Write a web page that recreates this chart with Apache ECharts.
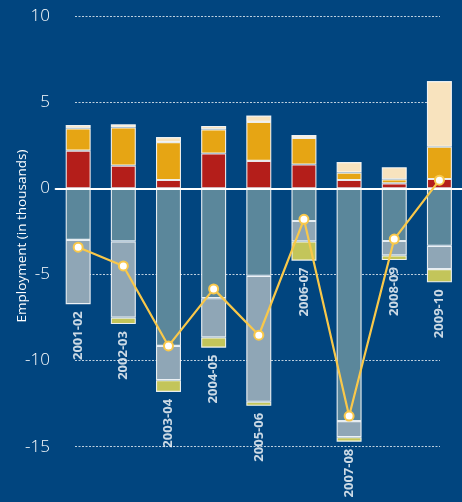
<!DOCTYPE html>
<html>
<head>
<meta charset="utf-8">
<script src="https://cdn.jsdelivr.net/npm/echarts@6/dist/echarts.min.js"></script>
<style>
  html, body { margin: 0; padding: 0; background: #01457f; }
  #chart { width: 462px; height: 502px; }
</style>
</head>
<body>
<div id="chart"></div>
<script>
// Fiscal years
const categories = ['2001-02', '2002-03', '2003-04', '2004-05', '2005-06', '2006-07', '2007-08', '2008-09', '2009-10'];

// Gains (thousands), stacked upward from zero
const gainRed    = [2.18, 1.32, 0.48, 2.02, 1.59, 1.38, 0.48, 0.29, 0.54];
const gainOrange = [1.30, 2.21, 2.20, 1.40, 2.26, 1.54, 0.43, 0.23, 1.87];
const gainCream  = [0.19, 0.18, 0.29, 0.20, 0.37, 0.17, 0.61, 0.70, 3.81];

// Losses (thousands), stacked downward from zero
const lossTeal  = [-3.00, -3.08, -9.15, -6.38, -5.08, -1.90, -13.51, -3.06, -3.34];
const lossGrey  = [-3.73, -4.43, -1.99, -2.27, -7.31, -1.18, -0.94, -0.83, -1.35];
const lossGreen = [null, -0.37, -0.68, -0.60, -0.24, -1.12, -0.26, -0.28, -0.77];

// Net change (thousands)
const netChange = [-3.42, -4.51, -9.15, -5.84, -8.53, -1.80, -13.22, -2.95, 0.47];

// Value axis ticks
const yMin = -15, yMax = 10, yStep = 5;

const FONT = '"Open Sans", "Noto Sans", sans-serif';

// Bottom of each negative stack, used to hang the year labels under the bars
const stackBottoms = categories.map((c, i) => (lossTeal[i] || 0) + (lossGrey[i] || 0) + (lossGreen[i] || 0));

const chart = echarts.init(document.getElementById('chart'), null, { renderer: 'canvas' });

function barSeries(name, data, color) {
  return {
    name, type: 'bar', stack: 'emp', data,
    xAxisIndex: 1, yAxisIndex: 1,
    barWidth: 25,
    itemStyle: { color, borderColor: 'rgba(255,255,255,0.88)', borderWidth: 1.1 },
    emphasis: { disabled: true },
    silent: true, z: 2
  };
}

chart.setOption({
  backgroundColor: '#01457f',
  animation: false,
  grid: [
    // grid carrying the dotted reference lines and tick labels
    { left: 75, top: 16, width: 365, height: 430.7 },
    // grid carrying the bars and net line
    { left: 55.6, top: 16, width: 415, height: 430.7 }
  ],
  xAxis: [
    { gridIndex: 0, type: 'category', data: categories, show: false },
    {
      gridIndex: 1, type: 'category', data: categories,
      axisLine: { show: true, onZero: true, lineStyle: { color: '#ffffff', width: 2 } },
      axisTick: { show: false }, axisLabel: { show: false }, splitLine: { show: false },
      z: 5
    }
  ],
  yAxis: [
    {
      gridIndex: 0, type: 'value', min: yMin, max: yMax, interval: yStep,
      axisLine: { show: false }, axisTick: { show: false },
      axisLabel: { color: '#ffffff', fontSize: 17, fontFamily: FONT, fontWeight: 300, margin: 25 },
      splitLine: {
        show: true,
        lineStyle: { color: 'rgba(255,255,255,0.75)', width: 1, type: [2, 1.5] }
      }
    },
    {
      gridIndex: 1, type: 'value', min: yMin, max: yMax, interval: yStep,
      show: false, splitLine: { show: false }
    }
  ],
  graphic: [
    {
      type: 'text', x: 22, y: 236, rotation: Math.PI / 2,
      style: {
        text: 'Employment (in thousands)', fill: '#ffffff',
        font: '13.5px ' + FONT, align: 'center', verticalAlign: 'middle'
      }
    }
  ],
  series: [
    barSeries('Gain A', gainRed, '#b41e1a'),
    barSeries('Gain B', gainOrange, '#e6a514'),
    barSeries('Gain C', gainCream, '#f8e3be'),
    barSeries('Loss A', lossTeal, '#5b879b'),
    barSeries('Loss B', lossGrey, '#8fa6b6'),
    barSeries('Loss C', lossGreen, '#c3c55a'),
    {
      name: 'Year labels', type: 'scatter', xAxisIndex: 1, yAxisIndex: 1,
      data: stackBottoms, symbolSize: 0, silent: true, z: 3,
      label: {
        show: true, position: 'bottom', distance: 7, rotate: 90,
        align: 'right', verticalAlign: 'middle',
        color: '#ffffff', fontFamily: FONT, fontWeight: 'bold', fontSize: 13,
        formatter: p => categories[p.dataIndex]
      },
      emphasis: { disabled: true }
    },
    {
      name: 'Net', type: 'line', xAxisIndex: 1, yAxisIndex: 1,
      data: netChange, z: 10, silent: true,
      lineStyle: { color: '#f9c84a', width: 2.2 },
      symbol: 'circle', symbolSize: 9,
      itemStyle: { color: '#ffffff', borderColor: '#f9c84a', borderWidth: 2 },
      emphasis: { disabled: true }
    }
  ]
});
</script>
</body>
</html>
